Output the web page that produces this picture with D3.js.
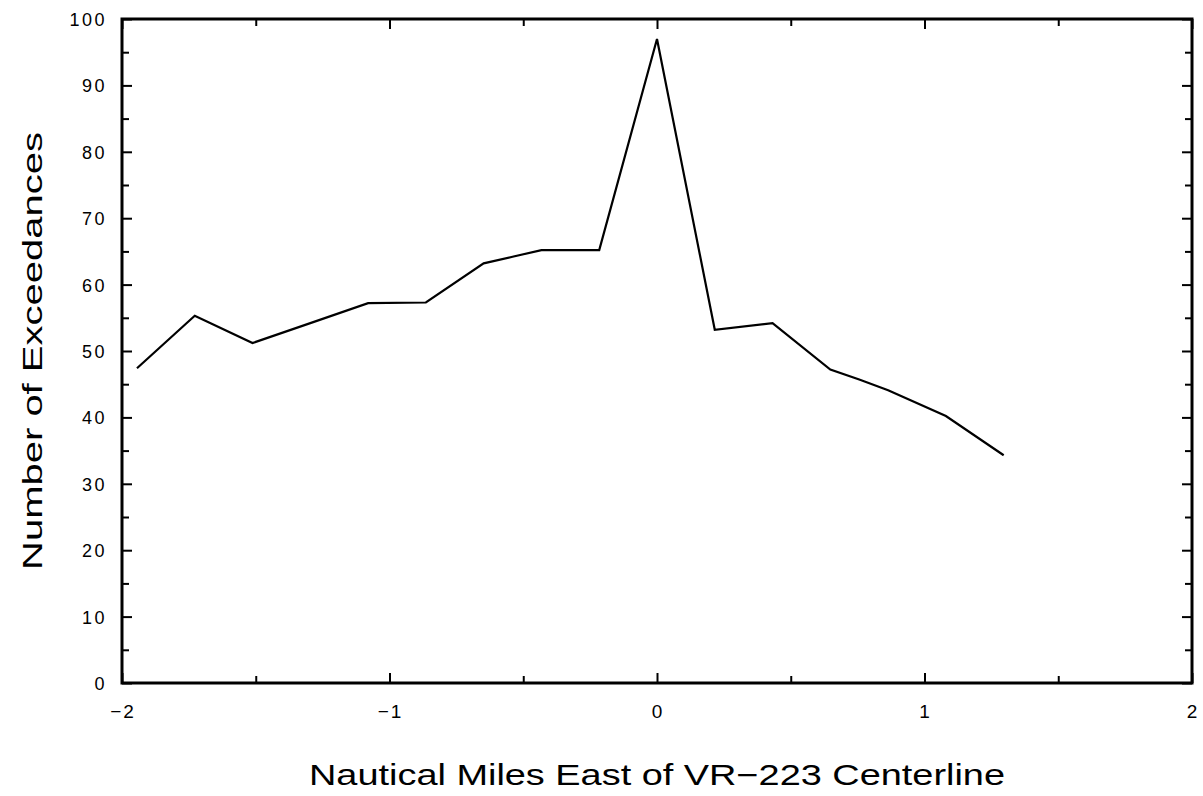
<!DOCTYPE html>
<html>
<head>
<meta charset="utf-8">
<script src="https://cdn.jsdelivr.net/npm/d3@7"></script>
<style>
  html, body { margin: 0; padding: 0; background: #fff; }
  svg { display: block; }
</style>
</head>
<body>
<div id="chart"></div>
<script>
// distance east of centerline (nmi) and exceedance counts
const offsets = [-1.944, -1.728, -1.512, -1.296, -1.080, -0.864, -0.648, -0.540, -0.432, -0.216,
                 0, 0.216, 0.432, 0.648, 0.756, 0.864, 1.080, 1.296];
const exceedances = [47.4, 55.3, 51.2, 54.2, 57.2, 57.3, 63.2, 64.2, 65.2, 65.2,
                     97, 53.2, 54.2, 47.2, 45.7, 44.1, 40.2, 34.3];
const xTicks = [-2, -1, 0, 1, 2];
const xMinor = [-1.5, -0.5, 0.5, 1.5];
const yTicks = [0, 10, 20, 30, 40, 50, 60, 70, 80, 90, 100];
const yMinor = [5, 15, 25, 35, 45, 55, 65, 75, 85, 95];
const xTitle = "Nautical Miles East of VR\u2212223 Centerline";
const yTitle = "Number of Exceedances";

(function() {
    const W = 1203, H = 796;
    const margin = { top: 19, right: 11, bottom: 113, left: 122 };
    const width = W - margin.left - margin.right;
    const height = H - margin.top - margin.bottom;
    const font = '"Liberation Sans", Arial, sans-serif';

    const svg = d3.select("#chart").append("svg")
        .attr("width", W)
        .attr("height", H);

    const g = svg.append("g")
        .attr("transform", `translate(${margin.left},${margin.top})`);

    const x = d3.scaleLinear().domain([-2, 2]).range([0, width]);
    const y = d3.scaleLinear().domain([0, 100]).range([height, 0]);

    const fmt = d => d < 0 ? "\u2212" + Math.abs(d) : String(d);

    // ticks pointing inward on all four sides
    function tickMarks(sel, axis) {
        sel.call(axis).call(s => s.select(".domain").remove())
            .call(s => s.selectAll("line").attr("stroke", "#000").attr("stroke-width", 2));
    }

    g.append("g").attr("transform", `translate(0,${height})`)
        .call(s => tickMarks(s, d3.axisTop(x).tickValues(xTicks).tickSize(10).tickFormat("")));
    g.append("g").attr("transform", `translate(0,${height})`)
        .call(s => tickMarks(s, d3.axisTop(x).tickValues(xMinor).tickSize(7).tickFormat("")));
    g.append("g")
        .call(s => tickMarks(s, d3.axisBottom(x).tickValues(xTicks).tickSize(10).tickFormat("")));
    g.append("g")
        .call(s => tickMarks(s, d3.axisBottom(x).tickValues(xMinor).tickSize(7).tickFormat("")));

    g.append("g")
        .call(s => tickMarks(s, d3.axisRight(y).tickValues(yTicks).tickSize(10).tickFormat("")));
    g.append("g")
        .call(s => tickMarks(s, d3.axisRight(y).tickValues(yMinor).tickSize(7).tickFormat("")));
    g.append("g").attr("transform", `translate(${width},0)`)
        .call(s => tickMarks(s, d3.axisLeft(y).tickValues(yTicks).tickSize(10).tickFormat("")));
    g.append("g").attr("transform", `translate(${width},0)`)
        .call(s => tickMarks(s, d3.axisLeft(y).tickValues(yMinor).tickSize(7).tickFormat("")));

    // tick labels
    g.selectAll(".xl").data(xTicks).enter().append("text")
        .attr("x", d => x(d) + 1)
        .attr("y", height + 35)
        .attr("text-anchor", "middle")
        .attr("font-family", font)
        .attr("font-size", "19px")
        .attr("letter-spacing", "2px")
        .text(fmt);

    g.selectAll(".yl").data(yTicks).enter().append("text")
        .attr("x", -15)
        .attr("y", d => y(d) + 7)
        .attr("text-anchor", "end")
        .attr("font-family", font)
        .attr("font-size", "18px")
        .attr("letter-spacing", "2.5px")
        .text(fmt);

    // frame
    g.append("rect")
        .attr("width", width)
        .attr("height", height)
        .attr("fill", "none")
        .attr("stroke", "#000")
        .attr("stroke-width", 3);

    // data line
    const line = d3.line()
        .x((d, i) => x(offsets[i]))
        .y(d => y(d));

    g.append("path")
        .datum(exceedances)
        .attr("d", line)
        .attr("fill", "none")
        .attr("stroke", "#000")
        .attr("stroke-width", 2.2)
        .attr("stroke-linejoin", "miter");

    // axis titles
    svg.append("text")
        .attr("x", margin.left + width / 2)
        .attr("y", 785)
        .attr("text-anchor", "middle")
        .attr("font-family", font)
        .attr("font-size", "29px")
        .attr("textLength", 696)
        .attr("lengthAdjust", "spacingAndGlyphs")
        .text(xTitle);

    svg.append("text")
        .attr("transform", `translate(42,${margin.top + height / 2}) rotate(-90)`)
        .attr("text-anchor", "middle")
        .attr("font-family", font)
        .attr("font-size", "27px")
        .attr("textLength", 438)
        .attr("lengthAdjust", "spacingAndGlyphs")
        .text(yTitle);
})();
</script>
</body>
</html>
